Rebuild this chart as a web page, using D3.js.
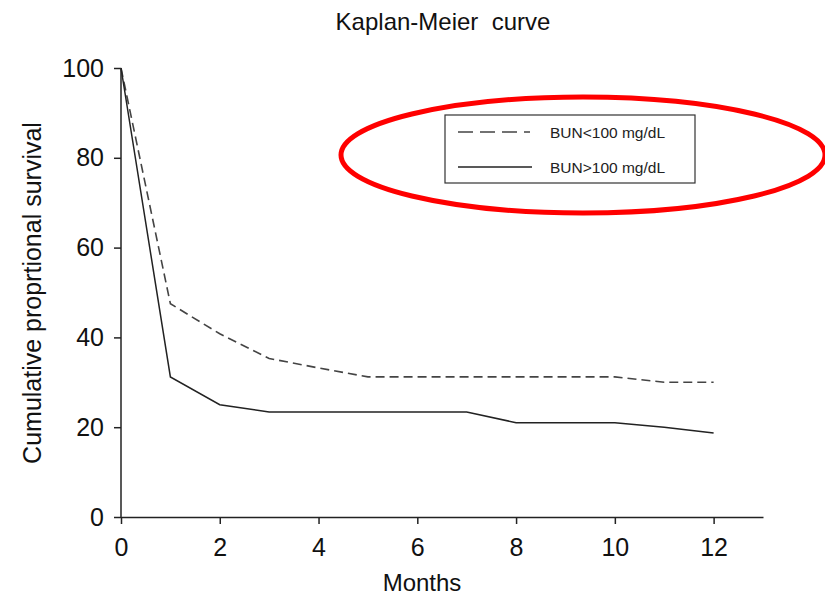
<!DOCTYPE html>
<html><head><meta charset="utf-8">
<script src="https://cdn.jsdelivr.net/npm/d3@7"></script>
<style>body{margin:0;background:#fff}svg{display:block;font-family:"Liberation Sans",Arial,sans-serif}</style>
</head><body><svg id="c" width="825" height="597"></svg>
<script>
const months = [0,1,2,3,4,5,6,7,8,9,10,11,12];
const bunLow  = [100,47.5,40.8,35.3,33.2,31.2,31.2,31.2,31.2,31.2,31.2,30,30];
const bunHigh = [100,31.2,25,23.4,23.4,23.4,23.4,23.4,21,21,21,20,18.7];
const xTicks = [0,2,4,6,8,10,12];
const yTicks = [0,20,40,60,80,100];
const seriesNames = ["BUN<100 mg/dL","BUN>100 mg/dL"];

const svg = d3.select("#c");
const x = d3.scaleLinear().domain([0,13]).range([121,763]);
const y = d3.scaleLinear().domain([0,100]).range([517,68]);
const col = "#222";

// axes
const xa = svg.append("g").attr("transform","translate(0,517)")
  .call(d3.axisBottom(x).tickValues(xTicks).tickSize(7).tickPadding(5).tickSizeOuter(0));
const ya = svg.append("g").attr("transform","translate(121,0)")
  .call(d3.axisLeft(y).tickValues(yTicks).tickSize(7).tickPadding(10).tickSizeOuter(0));
[xa,ya].forEach(a=>{
  a.selectAll("path,line").attr("stroke",col).attr("stroke-width",1.5);
  a.selectAll("text").attr("font-size",25).attr("fill","#111").attr("font-family","Liberation Sans, Arial, sans-serif");
});
ya.select(".domain").attr("d","M0,517V68");
xa.selectAll("text").attr("y",39).attr("dy",0);

const line = d3.line().x((d,i)=>x(months[i])).y(d=>y(d));
svg.append("path").datum(bunLow).attr("d",line).attr("fill","none")
  .attr("stroke","#444").attr("stroke-width",1.6).attr("stroke-dasharray","9,5");
svg.append("path").datum(bunHigh).attr("d",line).attr("fill","none")
  .attr("stroke",col).attr("stroke-width",1.5);

// title & labels
svg.append("text").attr("x",443).attr("y",30).attr("text-anchor","middle")
  .attr("font-size",24).attr("fill","#111").attr("xml:space","preserve").text("Kaplan-Meier  curve");
svg.append("text").attr("x",422).attr("y",591).attr("text-anchor","middle")
  .attr("font-size",24).attr("fill","#111").text("Months");
svg.append("text").attr("transform","translate(41,293) rotate(-90)").attr("text-anchor","middle")
  .attr("font-size",25).attr("fill","#111").text("Cumulative proprtional survival");

// legend
const lg = svg.append("g");
lg.append("rect").attr("x",445).attr("y",115).attr("width",250).attr("height",68)
  .attr("fill","none").attr("stroke","#333").attr("stroke-width",1.2);
lg.append("line").attr("x1",458).attr("x2",530).attr("y1",132).attr("y2",132)
  .attr("stroke","#444").attr("stroke-width",1.5).attr("stroke-dasharray","15,7");
lg.append("line").attr("x1",458).attr("x2",532).attr("y1",167).attr("y2",167)
  .attr("stroke",col).attr("stroke-width",1.5);
seriesNames.forEach((n,i)=>{
  lg.append("text").attr("x",550).attr("y",138+i*35).attr("font-size",15.5).attr("fill","#222").text(n);
});

// red annotation ellipse
svg.append("ellipse").attr("cx",583).attr("cy",155).attr("rx",242).attr("ry",58)
  .attr("fill","none").attr("stroke","#f00").attr("stroke-width",5);
</script></body></html>
